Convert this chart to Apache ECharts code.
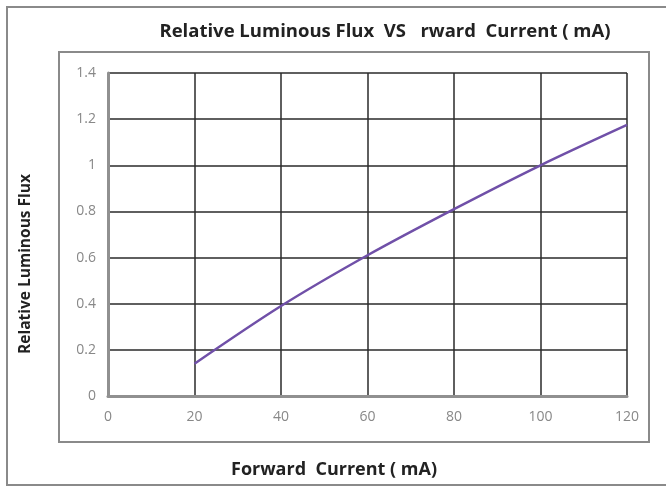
<!DOCTYPE html>
<html>
<head>
<meta charset="utf-8">
<script src="https://cdn.jsdelivr.net/npm/echarts@6/dist/echarts.min.js"></script>
<style>html,body{margin:0;padding:0;background:#fff;}#c{width:666px;height:486px;}</style>
</head>
<body>
<div id="c"></div>
<script>
const titleText = 'Relative Luminous Flux  VS   rward  Current ( mA)';
const xName = 'Forward  Current ( mA)';
const yName = 'Relative Luminous Flux';
const currents = [20, 40, 60, 80, 100, 120];
const fluxValues = [0.14, 0.39, 0.61, 0.81, 1.0, 1.175];

const chart = echarts.init(document.getElementById('c'));
const font = '"Open Sans", "DejaVu Sans", sans-serif';
chart.setOption({
  animation: false,
  backgroundColor: '#fff',
  grid: { left: 108, top: 73, right: 39, bottom: 90 },
  graphic: [
    { type: 'rect', shape: { x: 7, y: 7, width: 666, height: 478 }, style: { fill: 'none', stroke: '#8a8a8a', lineWidth: 2 }, z: 0 },
    { type: 'rect', shape: { x: 59, y: 52, width: 590, height: 390 }, style: { fill: 'none', stroke: '#8a8a8a', lineWidth: 2 }, z: 0 },
    { type: 'text', x: 385, y: 32, style: { text: titleText, font: 'bold 18.5px ' + font, fill: '#222', align: 'center', verticalAlign: 'middle' } },
    { type: 'text', x: 334, y: 470, style: { text: xName, font: 'bold 18px ' + font, fill: '#222', align: 'center', verticalAlign: 'middle' } },
    { type: 'text', x: 26, y: 264, rotation: Math.PI / 2, style: { text: yName, font: 'bold 15.5px ' + font, fill: '#222', align: 'center', verticalAlign: 'middle' } }
  ],
  xAxis: {
    type: 'value', min: 0, max: 120, interval: 20,
    axisLine: { show: true, onZero: false, lineStyle: { color: '#909090', width: 3 } },
    axisTick: { show: false },
    axisLabel: { color: '#888', fontSize: 14, fontFamily: font, margin: 14 },
    splitLine: { show: true, lineStyle: { color: '#2a2a2a', width: 1.5 } }
  },
  yAxis: {
    type: 'value', min: 0, max: 1.4, interval: 0.2,
    axisLine: { show: true, onZero: false, lineStyle: { color: '#909090', width: 3 } },
    axisTick: { show: false },
    axisLabel: { color: '#888', fontSize: 14, fontFamily: font, margin: 12 },
    splitLine: { show: true, lineStyle: { color: '#2a2a2a', width: 1.5 } }
  },
  series: [{
    type: 'line',
    data: currents.map((c, i) => [c, fluxValues[i]]),
    smooth: 0.3,
    showSymbol: false,
    lineStyle: { color: '#7050a8', width: 2.5 },
    z: 5
  }]
});
</script>
</body>
</html>
